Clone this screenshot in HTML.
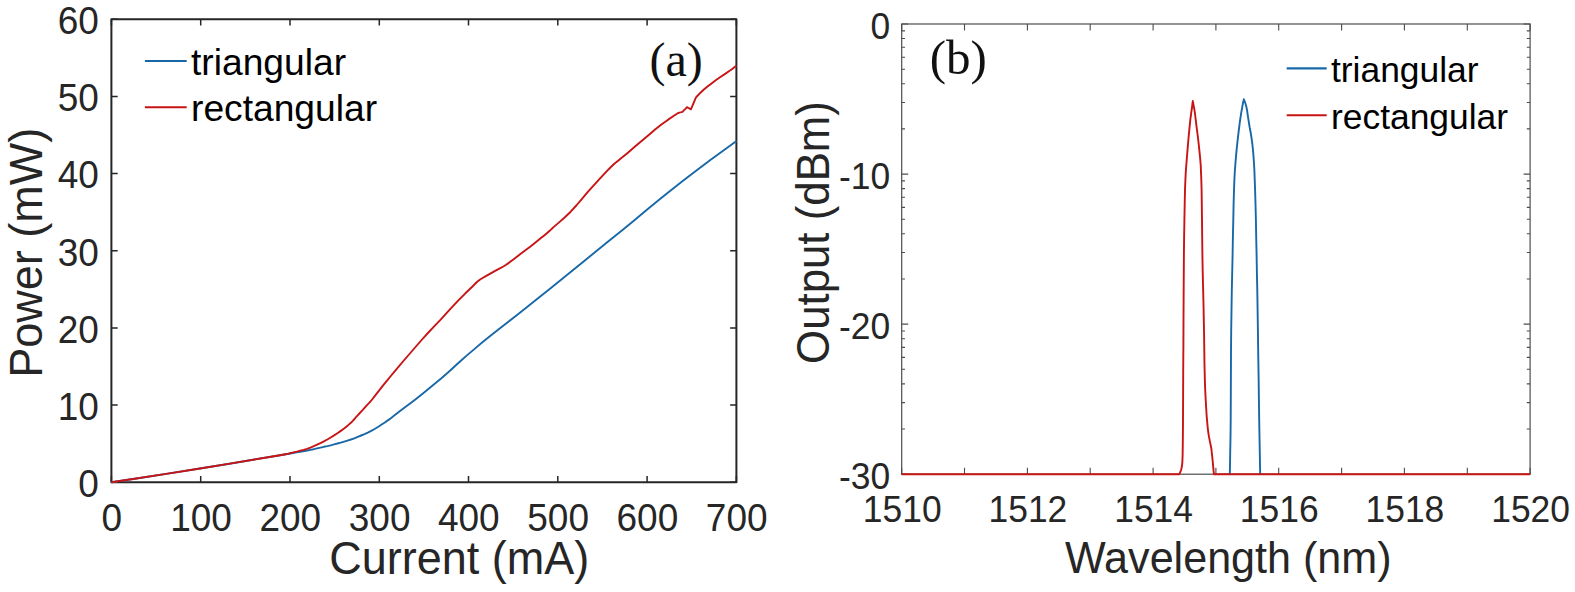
<!DOCTYPE html>
<html lang="en"><head><meta charset="utf-8"><title>L-I curves and spectra</title>
<style>
html,body{margin:0;padding:0;background:#fff;}
body{width:1575px;height:592px;overflow:hidden;}
svg{display:block;}
text{font-family:"Liberation Sans",Arial,Helvetica,sans-serif;fill:#262626;}
.serif{font-family:"Liberation Serif","Times New Roman",Times,serif;fill:#111;}
.leg{fill:#000;}
</style></head><body>
<svg width="1575" height="592" viewBox="0 0 1575 592">
<rect x="0" y="0" width="1575" height="592" fill="#ffffff"/>
<g id="chart-a">
<path d="M111.4 482.3V476.0M111.4 19.3V25.6M200.7 482.3V476.0M200.7 19.3V25.6M290.0 482.3V476.0M290.0 19.3V25.6M379.3 482.3V476.0M379.3 19.3V25.6M468.5 482.3V476.0M468.5 19.3V25.6M557.8 482.3V476.0M557.8 19.3V25.6M647.1 482.3V476.0M647.1 19.3V25.6M736.4 482.3V476.0M736.4 19.3V25.6M111.4 482.3H117.7M736.4 482.3H730.1M111.4 405.1H117.7M736.4 405.1H730.1M111.4 328.0H117.7M736.4 328.0H730.1M111.4 250.8H117.7M736.4 250.8H730.1M111.4 173.6H117.7M736.4 173.6H730.1M111.4 96.5H117.7M736.4 96.5H730.1M111.4 19.3H117.7M736.4 19.3H730.1" stroke="#262626" stroke-width="1.5" fill="none"/>
<rect x="111.4" y="19.3" width="625.0" height="463.0" fill="none" stroke="#262626" stroke-width="2.0" stroke-linejoin="round"/>
<polyline fill="none" stroke="#1868a8" stroke-width="1.9" stroke-linejoin="round" points="111.4,482.3 134.7,478.7 167.8,473.6 200.0,468.5 229.5,463.7 258.1,458.9 280.0,455.2 291.6,453.2 296.5,452.4 300.3,451.7 304.4,451.0 307.4,450.5 310.4,449.9 313.8,449.2 317.1,448.4 320.5,447.6 323.9,446.8 327.3,446.1 330.7,445.3 334.1,444.4 337.4,443.5 340.8,442.6 344.2,441.6 347.5,440.6 350.9,439.5 354.3,438.3 357.7,436.9 361.1,435.5 364.5,434.1 367.8,432.6 371.2,430.9 374.6,429.0 377.9,427.0 381.3,424.8 384.8,422.5 388.2,420.1 391.5,417.7 394.2,415.6 396.8,413.6 400.0,411.1 404.0,408.1 408.7,404.6 414.7,400.0 422.9,393.5 432.3,385.8 441.1,378.5 448.3,372.2 454.8,366.3 461.4,360.3 468.1,354.4 474.9,348.6 483.0,341.8 493.3,333.6 504.8,324.5 516.4,315.4 527.1,307.0 537.7,298.6 550.0,288.8 565.7,276.1 583.0,262.0 597.7,250.0 607.2,242.3 614.1,236.8 622.5,230.0 634.1,220.4 647.2,209.5 660.0,199.0 671.6,189.7 683.0,180.7 695.1,171.4 710.0,160.3 725.5,149.0 736.5,141.0"/>
<polyline fill="none" stroke="#c81414" stroke-width="1.9" stroke-linejoin="round" points="111.4,482.3 134.7,478.7 167.8,473.6 200.0,468.5 229.9,463.6 258.8,458.8 280.0,455.2 288.5,453.7 289.3,453.5 290.1,453.2 293.5,452.4 296.9,451.6 300.3,450.7 303.7,449.8 307.0,448.8 310.4,447.6 313.8,446.2 317.1,444.7 320.5,443.1 323.9,441.4 327.3,439.5 330.7,437.5 334.1,435.4 337.4,433.2 340.8,430.9 344.4,428.2 347.9,425.4 350.9,422.8 353.0,420.7 354.5,419.0 356.0,417.2 357.7,415.4 359.4,413.5 361.1,411.7 362.8,409.9 364.4,408.0 366.1,406.1 367.7,404.4 369.4,402.7 371.7,400.0 375.1,395.7 379.2,390.4 383.3,385.1 386.8,380.8 390.4,376.5 395.5,370.4 403.4,361.0 412.9,350.0 421.6,340.0 428.4,332.5 434.4,326.2 440.4,319.9 446.5,313.2 452.5,306.6 458.6,300.2 465.4,293.3 472.2,286.7 476.9,282.0 477.8,281.3 479.2,280.2 480.1,279.5 482.6,278.0 486.3,275.9 490.3,273.6 494.7,271.2 499.4,268.7 503.4,266.5 506.1,264.8 508.1,263.4 510.5,261.6 513.7,259.2 517.2,256.5 520.7,253.8 524.1,251.3 527.4,248.8 530.8,246.2 534.2,243.5 537.6,240.8 540.9,238.1 544.2,235.4 547.4,232.7 550.0,230.5 551.2,229.4 551.8,228.8 553.8,226.9 558.5,222.9 564.6,217.5 570.7,211.7 576.3,205.5 582.0,198.8 587.6,192.2 593.5,185.6 599.4,179.1 604.5,173.6 608.7,169.2 612.2,165.8 614.6,163.5 615.8,162.6 617.8,161.0 621.4,158.1 627.6,152.9 635.3,146.3 642.8,140.0 649.3,134.5 655.4,129.3 661.4,124.5 667.8,119.9 673.9,115.8 678.2,113.0 679.5,112.6 681.2,112.2 682.5,111.8 683.8,110.4 685.7,108.6 687.0,107.2 688.2,107.8 689.7,108.7 690.9,109.3 692.4,105.8 694.5,100.9 696.0,97.4 697.8,95.5 700.5,92.7 703.6,89.8 707.2,86.8 711.2,83.7 715.4,80.5 720.0,77.3 724.8,74.1 728.9,71.3 732.2,69.0 734.7,67.0 736.5,65.7"/>
<text transform="translate(111.7 530.5) scale(1.000 1.040)" font-size="37.0" text-anchor="middle">0</text>
<text transform="translate(201.0 530.5) scale(1.000 1.040)" font-size="37.0" text-anchor="middle">100</text>
<text transform="translate(290.3 530.5) scale(1.000 1.040)" font-size="37.0" text-anchor="middle">200</text>
<text transform="translate(379.6 530.5) scale(1.000 1.040)" font-size="37.0" text-anchor="middle">300</text>
<text transform="translate(468.8 530.5) scale(1.000 1.040)" font-size="37.0" text-anchor="middle">400</text>
<text transform="translate(558.1 530.5) scale(1.000 1.040)" font-size="37.0" text-anchor="middle">500</text>
<text transform="translate(647.4 530.5) scale(1.000 1.040)" font-size="37.0" text-anchor="middle">600</text>
<text transform="translate(736.7 530.5) scale(1.000 1.040)" font-size="37.0" text-anchor="middle">700</text>
<text transform="translate(98.9 497.0) scale(1.000 1.040)" font-size="37.0" text-anchor="end">0</text>
<text transform="translate(98.9 419.8) scale(1.000 1.040)" font-size="37.0" text-anchor="end">10</text>
<text transform="translate(98.9 342.7) scale(1.000 1.040)" font-size="37.0" text-anchor="end">20</text>
<text transform="translate(98.9 265.5) scale(1.000 1.040)" font-size="37.0" text-anchor="end">30</text>
<text transform="translate(98.9 188.3) scale(1.000 1.040)" font-size="37.0" text-anchor="end">40</text>
<text transform="translate(98.9 111.2) scale(1.000 1.040)" font-size="37.0" text-anchor="end">50</text>
<text transform="translate(98.9 34.0) scale(1.000 1.040)" font-size="37.0" text-anchor="end">60</text>
<text transform="translate(459.3 573.8) scale(1.000 1.040)" font-size="45.0" text-anchor="middle">Current (mA)</text>
<text transform="translate(42.4 252.8) rotate(-90) scale(1.000 1.040)" font-size="45.0" text-anchor="middle">Power (mW)</text>
<path d="M144.9 61H186.7" stroke="#1868a8" stroke-width="2.1" fill="none"/>
<path d="M144.9 107.2H186.7" stroke="#c81414" stroke-width="2.1" fill="none"/>
<text class="leg" transform="translate(191.0 75.2)" font-size="37.2">triangular</text>
<text class="leg" transform="translate(191.0 121.1)" font-size="37.2">rectangular</text>
<text class="serif" transform="translate(676.2 76.0)" font-size="48.0" text-anchor="middle">(a)</text>
</g>
<g id="chart-b">
<path d="M901.7 474.2V467.7M901.7 24.0V30.5M964.5 474.2V467.7M964.5 24.0V30.5M1027.4 474.2V467.7M1027.4 24.0V30.5M1090.2 474.2V467.7M1090.2 24.0V30.5M1153.1 474.2V467.7M1153.1 24.0V30.5M1215.9 474.2V467.7M1215.9 24.0V30.5M1278.7 474.2V467.7M1278.7 24.0V30.5M1341.6 474.2V467.7M1341.6 24.0V30.5M1404.4 474.2V467.7M1404.4 24.0V30.5M1467.3 474.2V467.7M1467.3 24.0V30.5M1530.1 474.2V467.7M1530.1 24.0V30.5M901.7 24.0H908.2M1530.1 24.0H1523.6M901.7 128.9H905.0M1530.1 128.9H1526.8M901.7 102.5H905.0M1530.1 102.5H1526.8M901.7 83.7H905.0M1530.1 83.7H1526.8M901.7 69.2H905.0M1530.1 69.2H1526.8M901.7 57.3H905.0M1530.1 57.3H1526.8M901.7 47.2H905.0M1530.1 47.2H1526.8M901.7 38.5H905.0M1530.1 38.5H1526.8M901.7 30.9H905.0M1530.1 30.9H1526.8M901.7 174.1H908.2M1530.1 174.1H1523.6M901.7 279.0H905.0M1530.1 279.0H1526.8M901.7 252.5H905.0M1530.1 252.5H1526.8M901.7 233.8H905.0M1530.1 233.8H1526.8M901.7 219.2H905.0M1530.1 219.2H1526.8M901.7 207.4H905.0M1530.1 207.4H1526.8M901.7 197.3H905.0M1530.1 197.3H1526.8M901.7 188.6H905.0M1530.1 188.6H1526.8M901.7 180.9H905.0M1530.1 180.9H1526.8M901.7 324.1H908.2M1530.1 324.1H1523.6M901.7 429.0H905.0M1530.1 429.0H1526.8M901.7 402.6H905.0M1530.1 402.6H1526.8M901.7 383.9H905.0M1530.1 383.9H1526.8M901.7 369.3H905.0M1530.1 369.3H1526.8M901.7 357.4H905.0M1530.1 357.4H1526.8M901.7 347.4H905.0M1530.1 347.4H1526.8M901.7 338.7H905.0M1530.1 338.7H1526.8M901.7 331.0H905.0M1530.1 331.0H1526.8M901.7 474.2H908.2M1530.1 474.2H1523.6" stroke="#4d4d4d" stroke-width="1.1" fill="none"/>
<rect x="901.7" y="24.0" width="628.4" height="450.2" fill="none" stroke="#4d4d4d" stroke-width="1.2"/>
<polyline fill="none" stroke="#1868a8" stroke-width="1.9" stroke-linejoin="round" points="1229.8,474.2 1230.0,465.3 1230.2,452.7 1230.5,437.3 1230.7,420.0 1230.8,399.7 1230.9,376.3 1231.0,352.3 1231.2,330.0 1231.5,310.0 1231.8,290.9 1232.2,272.7 1232.6,255.0 1232.9,237.3 1233.3,219.8 1233.6,203.7 1234.0,190.0 1234.4,179.6 1234.8,171.8 1235.3,165.0 1235.9,157.6 1236.7,148.9 1237.7,139.7 1238.7,131.1 1239.6,123.8 1240.4,118.2 1241.1,113.7 1241.7,110.1 1242.3,106.9 1242.8,104.2 1243.2,102.0 1243.6,100.4 1243.8,99.3 1244.3,100.4 1244.9,102.0 1245.7,104.2 1246.4,106.9 1247.1,110.5 1247.7,114.8 1248.4,119.4 1249.1,123.8 1249.8,128.0 1250.6,132.2 1251.3,136.5 1251.9,140.7 1252.4,144.6 1252.8,148.2 1253.2,152.3 1253.6,157.6 1254.0,163.8 1254.4,170.8 1254.7,179.2 1255.1,190.0 1255.5,203.7 1255.9,219.8 1256.2,237.3 1256.6,255.0 1256.9,272.7 1257.3,290.9 1257.6,310.0 1257.9,330.0 1258.2,352.3 1258.6,376.3 1258.9,399.7 1259.2,420.0 1259.5,437.3 1259.8,452.7 1260.0,465.3 1260.2,474.2"/>
<polyline fill="none" stroke="#c81414" stroke-width="1.9" stroke-linejoin="round" points="901.7,474.2 958.1,474.2 1040.5,474.2 1122.9,474.2 1179.3,474.2 1179.7,473.3 1180.3,472.0 1181.0,470.3 1181.5,468.3 1181.9,466.3 1182.2,464.1 1182.4,461.1 1182.6,456.2 1182.7,450.3 1182.8,443.6 1182.9,434.1 1183.0,420.0 1183.1,398.7 1183.2,371.8 1183.4,344.0 1183.5,320.0 1183.6,301.3 1183.7,285.3 1183.8,270.4 1183.9,255.0 1184.1,238.0 1184.4,220.5 1184.7,204.0 1185.0,190.0 1185.4,179.6 1185.8,171.8 1186.3,165.0 1186.9,157.6 1187.6,148.8 1188.4,139.5 1189.2,130.9 1189.9,123.8 1190.4,118.9 1190.9,115.5 1191.2,112.9 1191.6,110.3 1192.0,107.5 1192.3,104.8 1192.6,102.6 1192.8,101.0 1193.1,102.6 1193.5,104.8 1194.0,107.5 1194.5,110.3 1194.9,112.9 1195.2,115.5 1195.6,118.9 1196.2,123.8 1197.1,130.9 1198.2,139.5 1199.2,148.8 1200.1,157.6 1200.7,165.0 1201.0,171.9 1201.3,179.6 1201.6,190.0 1201.8,204.0 1202.0,220.5 1202.2,238.0 1202.4,255.0 1202.7,271.4 1203.1,288.0 1203.5,304.3 1203.8,320.0 1204.1,335.5 1204.3,350.7 1204.5,365.0 1204.8,377.4 1205.1,387.6 1205.5,396.0 1205.9,403.2 1206.3,410.0 1206.7,416.3 1207.2,421.9 1207.6,426.7 1208.1,431.0 1208.6,434.6 1209.1,437.4 1209.6,439.8 1210.0,442.0 1210.4,443.9 1210.7,445.3 1211.0,446.7 1211.3,448.5 1211.6,450.6 1211.8,452.9 1212.1,455.4 1212.4,458.4 1212.8,462.3 1213.2,466.9 1213.6,471.2 1213.9,474.2 1278.1,474.2 1372.0,474.2 1465.9,474.2 1530.1,474.2"/>
<text transform="translate(902.2 521.6) scale(1.000 1.040)" font-size="35.4" text-anchor="middle">1510</text>
<text transform="translate(1027.9 521.6) scale(1.000 1.040)" font-size="35.4" text-anchor="middle">1512</text>
<text transform="translate(1153.6 521.6) scale(1.000 1.040)" font-size="35.4" text-anchor="middle">1514</text>
<text transform="translate(1279.2 521.6) scale(1.000 1.040)" font-size="35.4" text-anchor="middle">1516</text>
<text transform="translate(1404.9 521.6) scale(1.000 1.040)" font-size="35.4" text-anchor="middle">1518</text>
<text transform="translate(1530.6 521.6) scale(1.000 1.040)" font-size="35.4" text-anchor="middle">1520</text>
<text transform="translate(890.2 38.7) scale(1.000 1.040)" font-size="35.4" text-anchor="end">0</text>
<text transform="translate(890.2 188.8) scale(1.000 1.040)" font-size="35.4" text-anchor="end">-10</text>
<text transform="translate(890.2 338.8) scale(1.000 1.040)" font-size="35.4" text-anchor="end">-20</text>
<text transform="translate(890.2 488.9) scale(1.000 1.040)" font-size="35.4" text-anchor="end">-30</text>
<text transform="translate(1228.3 573.0) scale(1.000 1.040)" font-size="43.1" text-anchor="middle">Wavelength (nm)</text>
<text transform="translate(828.6 232.5) rotate(-90) scale(1.000 1.040)" font-size="43.8" text-anchor="middle">Output (dBm)</text>
<path d="M1286.7 68.4H1326.7" stroke="#1868a8" stroke-width="2.1" fill="none"/>
<path d="M1286.7 115.3H1326.7" stroke="#c81414" stroke-width="2.1" fill="none"/>
<text class="leg" transform="translate(1331.0 81.8)" font-size="35.4">triangular</text>
<text class="leg" transform="translate(1331.0 128.7)" font-size="35.4">rectangular</text>
<text class="serif" transform="translate(958.3 74.0)" font-size="49.0" text-anchor="middle">(b)</text>
</g>
</svg>
</body></html>
